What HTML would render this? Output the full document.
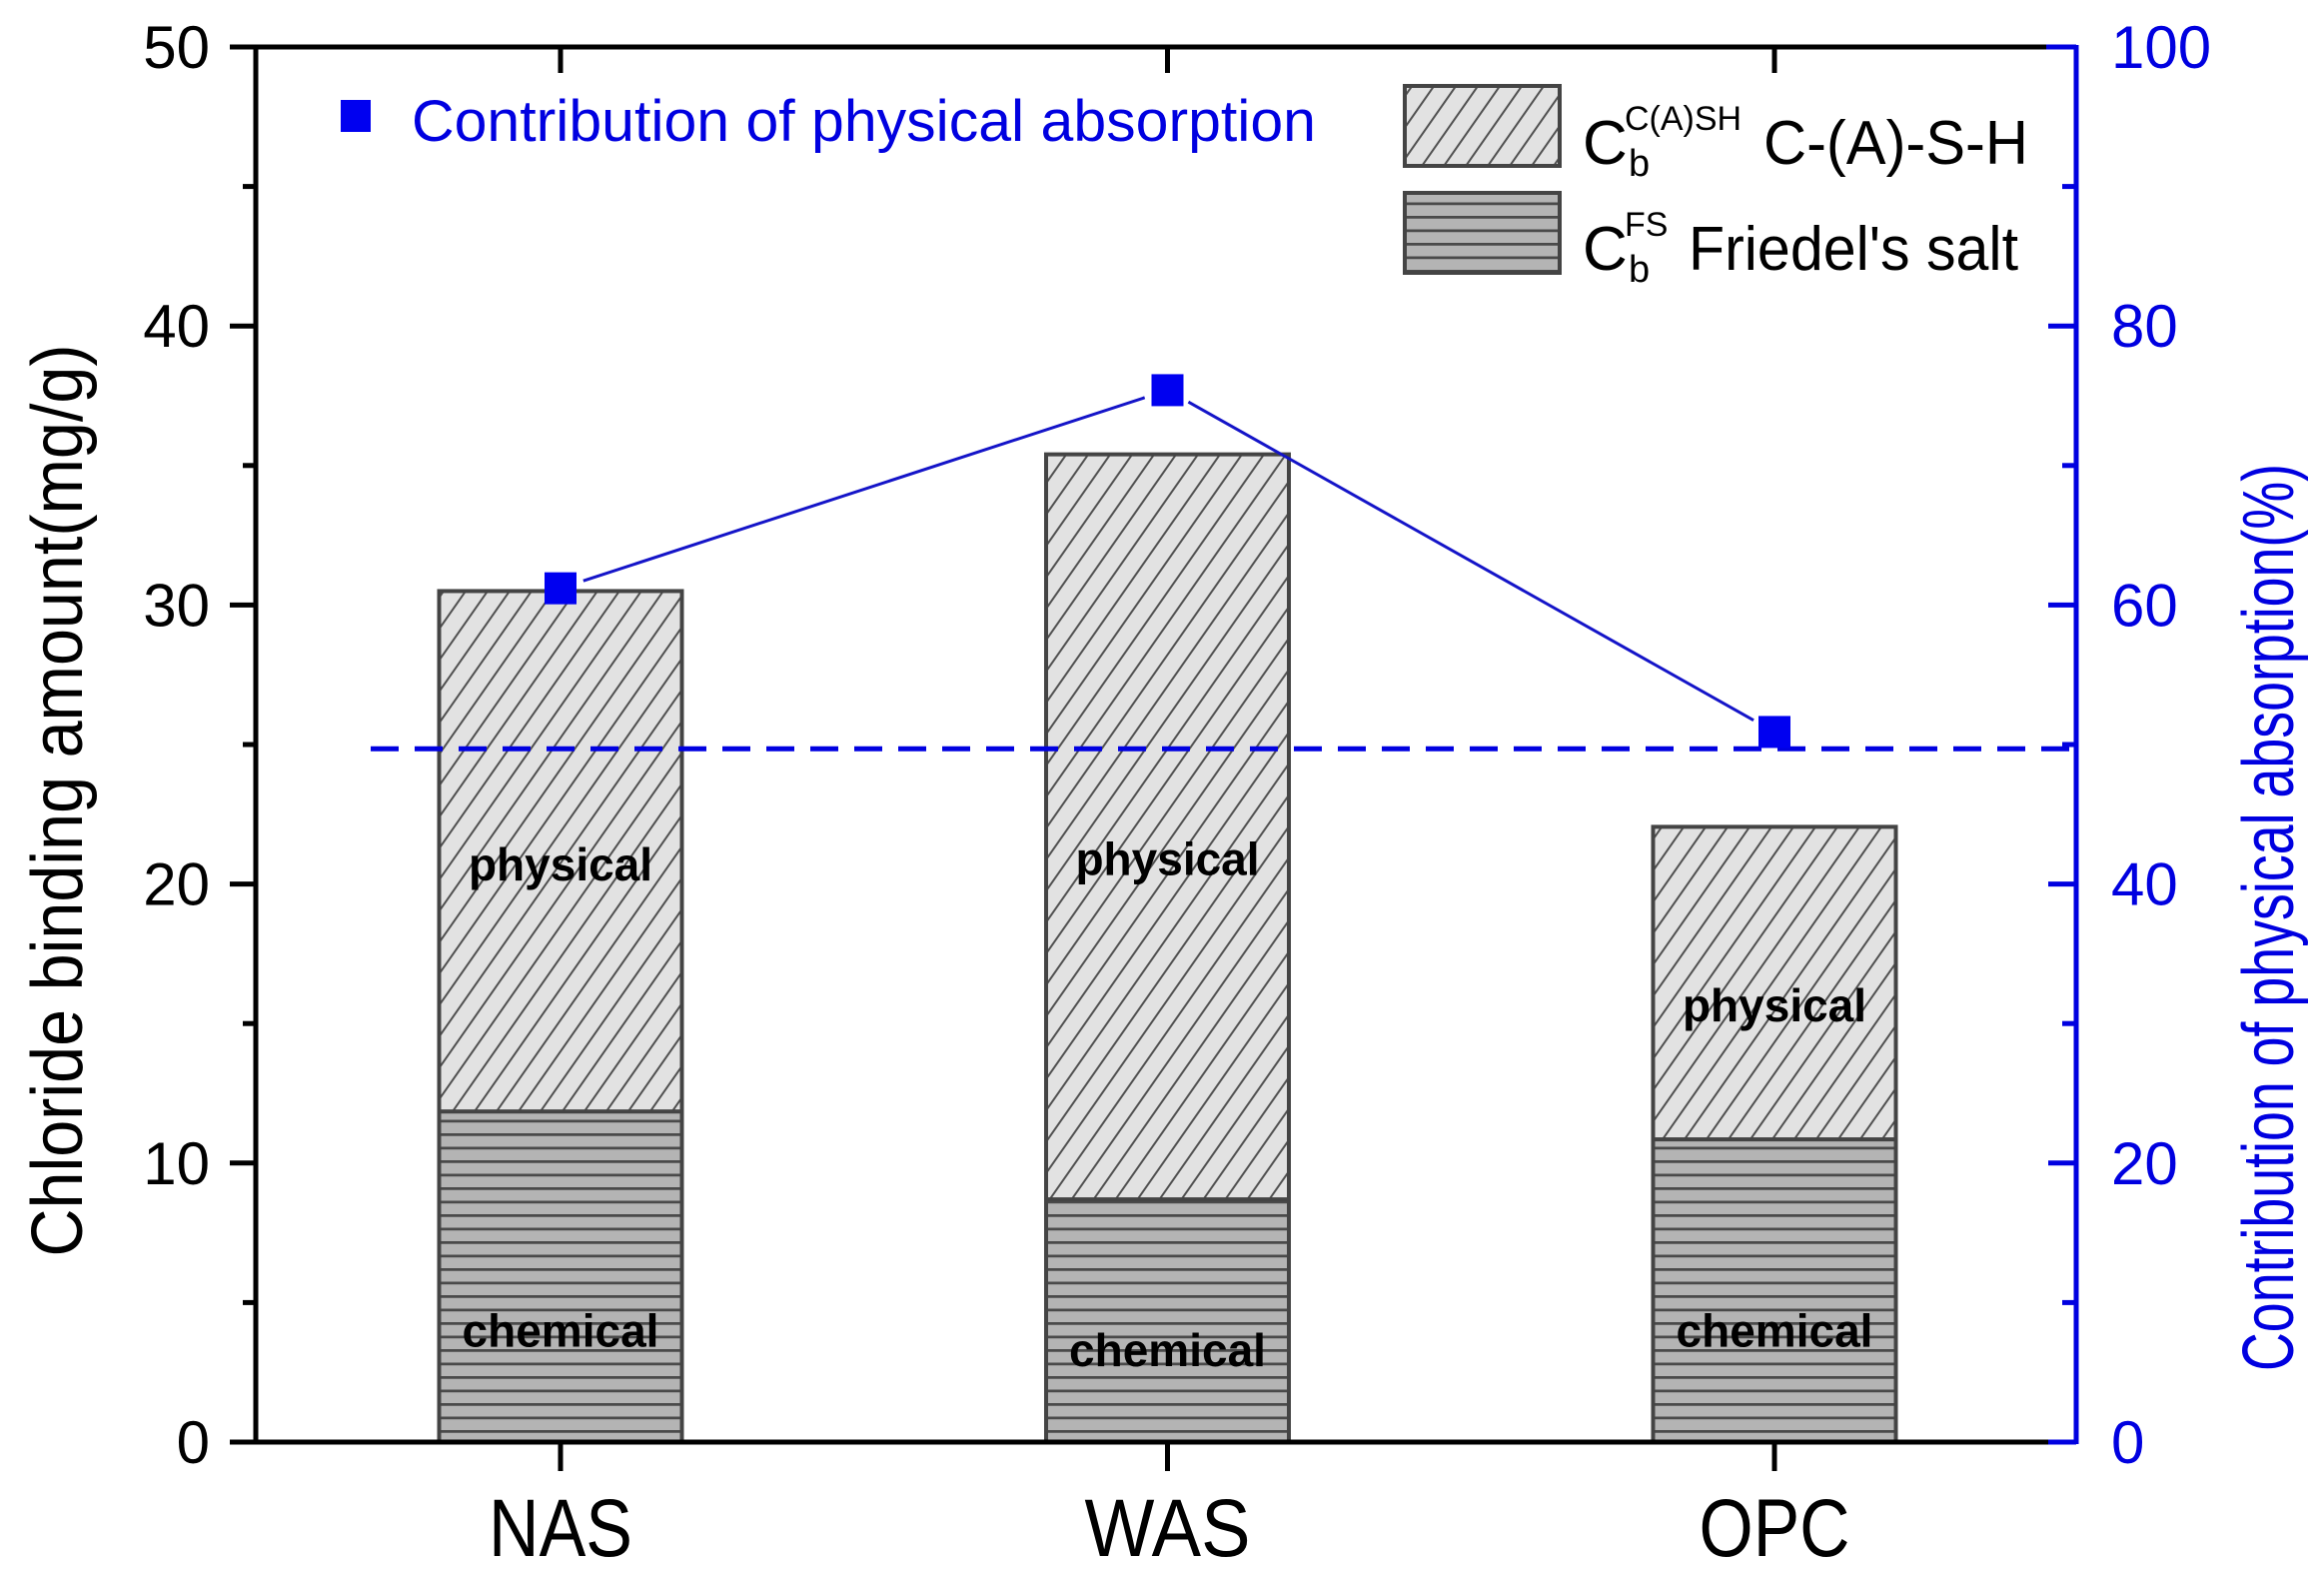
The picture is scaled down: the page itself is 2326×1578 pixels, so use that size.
<!DOCTYPE html>
<html><head><meta charset="utf-8"><style>
html,body{margin:0;padding:0;background:#fff;}
svg{display:block;font-family:"Liberation Sans",Arial,sans-serif;}
</style></head><body>
<svg id="chart" width="2326" height="1578" viewBox="0 0 2326 1578" xmlns="http://www.w3.org/2000/svg">
<defs>
<pattern id="diag" patternUnits="userSpaceOnUse" width="18" height="18" patternTransform="rotate(35)">
<rect width="18" height="18" fill="#e2e2e2"/><line x1="0" y1="0" x2="0" y2="18" stroke="#505050" stroke-width="4"/>
</pattern>
<pattern id="horiz" patternUnits="userSpaceOnUse" width="20" height="13.5">
<rect width="20" height="13.5" fill="#b4b4b4"/><line x1="0" y1="1" x2="20" y2="1" stroke="#4a4a4a" stroke-width="3.5"/>
</pattern>
</defs>
<g id="plot"></g>
</svg>
<script>
const categories = ['NAS','WAS','OPC'];
const totalBinding = [30.5, 35.4, 22.05];
const chemicalBinding = [11.85, 8.7, 10.85];
const physicalPercent = [61.2, 75.4, 50.9];
const referencePercent = [49.7];
const physLabelY = [20.7, 20.9, 15.65];
const chemLabelY = [4.0, 3.3, 4.0];
const leftTicks = [0,10,20,30,40,50];
const rightTicks = [0,20,40,60,80,100];
const catLabelWidths = [144,166,151];

const NS='http://www.w3.org/2000/svg';
const g=document.getElementById('plot');
const X0=256,X1=2078,Y0=1443,Y1=47;
const yL=v=>Y0-(v/50)*(Y0-Y1);
const yR=v=>Y0-(v/100)*(Y0-Y1);
const xC=i=>561+i*607.5;
const BW=243;
function mk(tag,attrs,parent){const e=document.createElementNS(NS,tag);for(const k in attrs)e.setAttribute(k,attrs[k]);(parent||g).appendChild(e);return e;}

categories.forEach((c,i)=>{
  const x=xC(i)-BW/2;
  let r=mk('rect',{x:x,y:yL(chemicalBinding[i]),width:BW,height:yL(0)-yL(chemicalBinding[i]),fill:'url(#horiz)',stroke:'#444','stroke-width':4});
  
  
  r=mk('rect',{x:x,y:yL(totalBinding[i]),width:BW,height:yL(chemicalBinding[i])-yL(totalBinding[i]),fill:'url(#diag)',stroke:'#444','stroke-width':4});
  
  
  let t=mk('text',{x:xC(i),y:yL(physLabelY[i]),'text-anchor':'middle','dominant-baseline':'central','font-size':46,'font-weight':'bold',fill:'#000'});
  t.textContent='physical';
  
  
  t=mk('text',{x:xC(i),y:yL(chemLabelY[i]),'text-anchor':'middle','dominant-baseline':'central','font-size':46,'font-weight':'bold',fill:'#000'});
  t.textContent='chemical';
  
  
});

let dl=mk('line',{x1:371,x2:X1,y1:yR(referencePercent[0]),y2:yR(referencePercent[0]),stroke:'#0000e0','stroke-width':5,'stroke-dasharray':'28 16'});



for(let i=0;i<categories.length-1;i++){
  const ax=xC(i),ay=yR(physicalPercent[i]),bx=xC(i+1),by=yR(physicalPercent[i+1]);
  const L=Math.hypot(bx-ax,by-ay),ux=(bx-ax)/L,uy=(by-ay)/L,gp=24;
  const s=mk('line',{x1:ax+ux*gp,y1:ay+uy*gp,x2:bx-ux*gp,y2:by-uy*gp,stroke:'#1414c8','stroke-width':3});
  
  
}
categories.forEach((c,i)=>{
  const m=mk('rect',{x:xC(i)-16,y:yR(physicalPercent[i])-16,width:32,height:32,fill:'#0000f0'});
  
  
});

let a=mk('line',{x1:X0,y1:Y1,x2:2050,y2:Y1,stroke:'#000','stroke-width':5});

a=mk('line',{x1:2048,y1:Y1,x2:X1,y2:Y1,stroke:'#0000e0','stroke-width':5});

a=mk('line',{x1:X0,y1:Y0,x2:X1,y2:Y0,stroke:'#000','stroke-width':5});

a=mk('line',{x1:X0,y1:Y1-2,x2:X0,y2:Y0+2,stroke:'#000','stroke-width':5});

a=mk('line',{x1:X1,y1:Y1-2,x2:X1,y2:Y0+2,stroke:'#0000e0','stroke-width':5});


leftTicks.forEach(v=>{
  let t=mk('line',{x1:230,x2:X0,y1:yL(v),y2:yL(v),stroke:'#000','stroke-width':5});
  
  if(v<50){t=mk('line',{x1:243,x2:X0,y1:yL(v+5),y2:yL(v+5),stroke:'#000','stroke-width':5});
  }
  const l=mk('text',{x:210,y:yL(v)+21,'text-anchor':'end','font-size':60,fill:'#000'});
  l.textContent=v;
  
});
rightTicks.forEach(v=>{
  let t=mk('line',{x1:2050,x2:X1,y1:yR(v),y2:yR(v),stroke:'#0000e0','stroke-width':5});
  
  if(v<100){t=mk('line',{x1:2064,x2:X1,y1:yR(v+10),y2:yR(v+10),stroke:'#0000e0','stroke-width':5});
  }
  const l=mk('text',{x:2113,y:yR(v)+21,'text-anchor':'start','font-size':60,fill:'#0000e0'});
  l.textContent=v;
  
});
categories.forEach((c,i)=>{
  let t=mk('line',{x1:xC(i),x2:xC(i),y1:Y0,y2:Y0+29,stroke:'#000','stroke-width':5});
  
  t=mk('line',{x1:xC(i),x2:xC(i),y1:Y1,y2:Y1+26,stroke:'#000','stroke-width':5});
  
  const l=mk('text',{x:xC(i),y:1557,'text-anchor':'middle','font-size':82,fill:'#000',textLength:catLabelWidths[i],lengthAdjust:'spacingAndGlyphs'});
  l.textContent=c;
  
});
</script>
<svg style="position:absolute;left:0;top:0" width="2326" height="1578" xmlns="http://www.w3.org/2000/svg" font-family="Liberation Sans, Arial, sans-serif">
<text transform="translate(82,801) rotate(-90)" text-anchor="middle" font-size="72" textLength="913" lengthAdjust="spacingAndGlyphs">Chloride binding amount(mg/g)</text>
<text transform="translate(2295,918) rotate(-90)" text-anchor="middle" font-size="72" fill="#0000e0" textLength="908" lengthAdjust="spacingAndGlyphs">Contribution of physical absorption(%)</text>
<g>
<rect x="341" y="100" width="30" height="32" fill="#0000f0"/>
<text x="412" y="141" font-size="58" fill="#0000e0" textLength="905" lengthAdjust="spacingAndGlyphs">Contribution of physical absorption</text>
</g>
<g>
<rect x="1406" y="86" width="155" height="80" fill="url(#diag)" stroke="#444" stroke-width="4"/>
<text x="1584" y="164" font-size="62">C</text>
<text x="1626" y="130" font-size="34">C(A)SH</text>
<text x="1630" y="176" font-size="38">b</text>
<text x="1765" y="164" font-size="62" textLength="265" lengthAdjust="spacingAndGlyphs">C-(A)-S-H</text>
</g>
<g>
<rect x="1406" y="193" width="155" height="80" fill="url(#horiz)" stroke="#444" stroke-width="4"/>
<text x="1584" y="270" font-size="62">C</text>
<text x="1626" y="236" font-size="34">FS</text>
<text x="1630" y="282" font-size="38">b</text>
<text x="1690" y="270" font-size="62" textLength="330" lengthAdjust="spacingAndGlyphs">Friedel's salt</text>
</g>
</svg>
</body></html>
